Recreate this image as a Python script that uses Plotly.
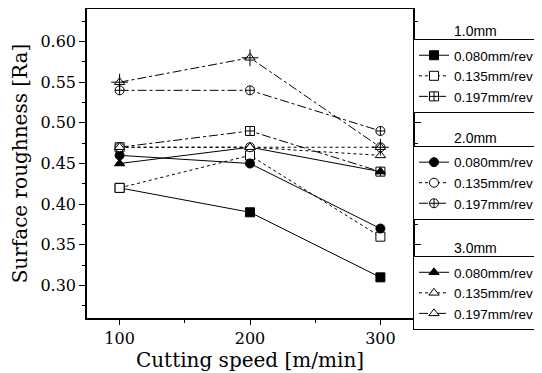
import plotly.graph_objects as go

speed = [100, 200, 300]

# 1.0 mm depth of cut
d10_f080 = [0.42, 0.39, 0.31]
d10_f135 = [0.42, 0.46, 0.36]
d10_f197 = [0.47, 0.49, 0.44]
# 2.0 mm
d20_f080 = [0.46, 0.45, 0.37]
d20_f135 = [0.47, 0.47, 0.47]
d20_f197 = [0.54, 0.54, 0.49]
# 3.0 mm
d30_f080 = [0.45, 0.47, 0.44]
d30_f135 = [0.47, 0.47, 0.46]
d30_f197 = [0.55, 0.58, 0.47]

feed_labels = ["0.080mm/rev", "0.135mm/rev", "0.197mm/rev"]
depth_labels = ["1.0mm", "2.0mm", "3.0mm"]

y_ticks = [0.30, 0.35, 0.40, 0.45, 0.50, 0.55, 0.60]
x_ticks = [100, 200, 300]

dash_for = ["solid", "dot", "dashdot"]

series = [
    # (values, legend, label idx, symbol, fill, dash idx)
    (d10_f080, "legend", 0, "square", "black", 0),
    (d10_f135, "legend", 1, "square", "white", 1),
    (d10_f197, "legend", 2, "square-cross", "white", 2),
    (d20_f080, "legend2", 0, "circle", "black", 0),
    (d20_f135, "legend2", 1, "circle", "white", 1),
    (d20_f197, "legend2", 2, "circle-cross", "white", 2),
    (d30_f080, "legend3", 0, "triangle-up", "black", 0),
    (d30_f135, "legend3", 1, "triangle-up", "white", 1),
    (d30_f197, "legend3", 2, "triangle-up", "white", 2),
]

fig = go.Figure()
for vals, leg, li, sym, fill, di in series:
    fig.add_trace(go.Scatter(
        x=speed, y=vals, mode="lines+markers", name=feed_labels[li],
        legend=leg,
        line=dict(color="black", width=1, dash=dash_for[di]),
        marker=dict(symbol=sym, size=9, color=fill,
                    line=dict(color="black", width=1)),
    ))
# cross overlay for the 3.0mm / 0.197 triangles
fig.add_trace(go.Scatter(
    x=speed, y=d30_f197, mode="markers", showlegend=False,
    marker=dict(symbol="cross-thin-open", size=12, color="black",
                line=dict(color="black", width=1)),
))

legend_common = dict(
    x=1.0, xanchor="left", yanchor="top",
    bgcolor="white", bordercolor="black", borderwidth=1,
    font=dict(family="Liberation Sans, Arial, sans-serif", size=13.5, color="black"),
    tracegroupgap=0, itemwidth=30,
    entrywidth=83, entrywidthmode="pixels",
)
# the page adds an 8px body margin, so the figure is 8px smaller on each axis
fig.update_layout(
    width=534, height=365,
    margin=dict(l=79, r=129, t=1, b=55, autoexpand=False),
    paper_bgcolor="white", plot_bgcolor="white",
    legend=dict(y=0.903, **legend_common),
    legend2=dict(y=0.557, **legend_common),
    legend3=dict(y=0.2006, **legend_common),
    font=dict(family="DejaVu Serif, serif", color="black"),
)

for txt, yy in zip(depth_labels, [0.929, 0.5825, 0.2265]):
    fig.add_annotation(
        text=txt, xref="paper", yref="paper", x=1.193, y=yy,
        xanchor="center", yanchor="middle", showarrow=False,
        font=dict(family="Liberation Sans, Arial, sans-serif", size=14, color="black"),
    )

fig.update_xaxes(
    range=[75, 325], tickvals=x_ticks, ticktext=[str(v) for v in x_ticks],
    showgrid=False, zeroline=False,
    showline=True, linecolor="black", linewidth=1.5, mirror="ticks",
    ticks="outside", ticklen=5, tickcolor="black",
    minor=dict(tickvals=[150, 250], ticks="outside", ticklen=3, tickcolor="black"),
    tickfont=dict(size=16, family="DejaVu Serif, serif"),
    title=dict(text="Cutting speed [m/min]", font=dict(size=20, family="DejaVu Serif, serif"), standoff=4),
)
fig.update_yaxes(
    range=[0.26, 0.64], tickvals=y_ticks, ticktext=[f"{v:.2f}" for v in y_ticks],
    showgrid=False, zeroline=False,
    showline=True, linecolor="black", linewidth=1.5, mirror="ticks",
    ticks="outside", ticklen=6, tickcolor="black",
    minor=dict(tickvals=[0.275, 0.325, 0.375, 0.425, 0.475, 0.525, 0.575, 0.625],
               ticks="outside", ticklen=3, tickcolor="black"),
    tickfont=dict(size=16, family="DejaVu Serif, serif"),
    title=dict(text="Surface roughness [Ra]", font=dict(size=20, family="DejaVu Serif, serif"), standoff=8),
)

fig.write_html("out.html")
